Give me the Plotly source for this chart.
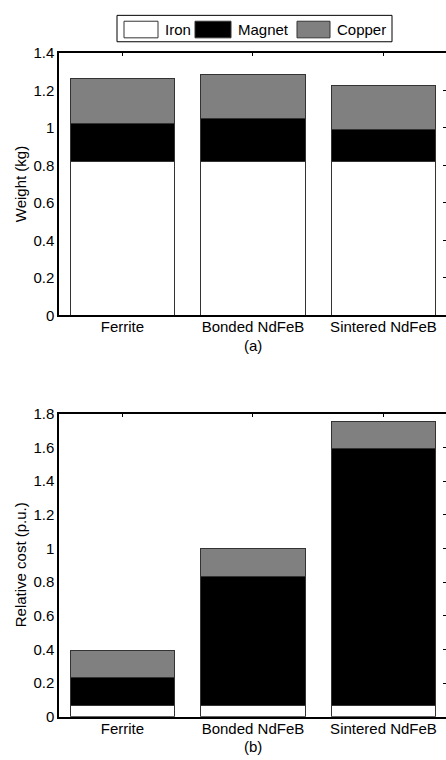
import plotly.graph_objects as go

categories = ["Ferrite", "Bonded NdFeB", "Sintered NdFeB"]
weight_iron = [0.82, 0.82, 0.82]
weight_magnet = [0.205, 0.233, 0.17]
weight_copper = [0.24, 0.234, 0.234]
cost_iron = [0.07, 0.07, 0.07]
cost_magnet = [0.162, 0.761, 1.525]
cost_copper = [0.164, 0.168, 0.161]
weight_ticks = [0, 0.2, 0.4, 0.6, 0.8, 1, 1.2, 1.4]
cost_ticks = [0, 0.2, 0.4, 0.6, 0.8, 1, 1.2, 1.4, 1.6, 1.8]
series_names = ["Iron", "Magnet", "Copper"]
series_colors = ["#ffffff", "#000000", "#808080"]

W, H = 446, 760
L = 59
FONT = "Liberation Sans, Arial, sans-serif"
FS = 15

fig = go.Figure()
xs = [0, 1, 2]
for vals_set, xa, ya in [((weight_iron, weight_magnet, weight_copper), "x", "y"),
                          ((cost_iron, cost_magnet, cost_copper), "x2", "y2")]:
    for name, vals, col in zip(series_names, vals_set, series_colors):
        fig.add_trace(go.Bar(x=xs, y=vals, name=name, marker_color=col,
                             marker_line=dict(color="#333333", width=1),
                             width=0.8, xaxis=xa, yaxis=ya, showlegend=False))

def py(p):
    return 1 - p / H

def px(p):
    return (p - L) / (W - L)

top_dom = [py(313.5), py(45)]
bot_dom = [py(724), py(414)]
xr = [-0.486, 2.479]

common_x = dict(range=xr, tickmode="array", tickvals=xs, ticktext=categories,
                showline=True, linecolor="black", linewidth=1.5, mirror=True,
                ticks="", showgrid=False, zeroline=False, ticklabelstandoff=-3,
                tickfont=dict(family=FONT, size=FS, color="black"))
common_y = dict(showline=True, linecolor="black", linewidth=1.5, mirror=False,
                ticks="", showgrid=False, zeroline=False, tickmode="array",
                tickfont=dict(family=FONT, size=FS, color="black"))

fig.update_layout(
    width=W, height=H, margin=dict(l=L, r=0, t=0, b=0),
    paper_bgcolor="white", plot_bgcolor="white",
    barmode="stack", bargap=0.2,
    font=dict(family=FONT, size=FS, color="black"),
    xaxis=dict(domain=[0, 1], anchor="y", **common_x),
    yaxis=dict(domain=top_dom, anchor="x", range=[0, 1.4], tickvals=weight_ticks,
               ticktext=[f"{v:g}" for v in weight_ticks], **common_y),
    xaxis2=dict(domain=[0, 1], anchor="y2", **common_x),
    yaxis2=dict(domain=bot_dom, anchor="x2", range=[0, 1.8], tickvals=cost_ticks,
                ticktext=[f"{v:g}" for v in cost_ticks], **common_y),
    xaxis3=dict(overlaying="x", side="top", anchor="y", range=xr, tickmode="array",
                tickvals=xs, showticklabels=False, ticks="inside", ticklen=3,
                tickcolor="black", showgrid=False, zeroline=False, showline=False),
    xaxis4=dict(overlaying="x2", side="top", anchor="y2", range=xr, tickmode="array",
                tickvals=xs, showticklabels=False, ticks="inside", ticklen=3,
                tickcolor="black", showgrid=False, zeroline=False, showline=False),
    yaxis3=dict(overlaying="y", side="right", anchor="x", range=[0, 1.4], tickmode="array",
                tickvals=weight_ticks, showticklabels=False, ticks="inside", ticklen=3,
                tickcolor="black", showgrid=False, zeroline=False, showline=False),
    yaxis4=dict(overlaying="y2", side="right", anchor="x2", range=[0, 1.8], tickmode="array",
                tickvals=cost_ticks, showticklabels=False, ticks="inside", ticklen=3,
                tickcolor="black", showgrid=False, zeroline=False, showline=False),
)

fig.add_trace(go.Scatter(x=[0], y=[0], xaxis="x3", yaxis="y3", mode="markers",
                         marker=dict(opacity=0), showlegend=False, hoverinfo="skip"))
fig.add_trace(go.Scatter(x=[0], y=[0], xaxis="x4", yaxis="y4", mode="markers",
                         marker=dict(opacity=0), showlegend=False, hoverinfo="skip"))

annotations = [
    dict(text="Weight (kg)", x=px(20), y=(top_dom[0] + top_dom[1]) / 2, textangle=-90),
    dict(text="Relative cost (p.u.)", x=px(20), y=(bot_dom[0] + bot_dom[1]) / 2, textangle=-90),
    dict(text="(a)", x=px(253), y=py(344)),
    dict(text="(b)", x=px(253), y=py(754)),
]
for a in annotations:
    a.update(xref="paper", yref="paper", showarrow=False, xanchor="center", yanchor="middle",
             font=dict(family=FONT, size=FS, color="black"))

shapes = [dict(type="rect", xref="paper", yref="paper", x0=px(117), x1=px(392),
               y0=py(33.5), y1=py(6.5), line=dict(color="black", width=1),
               fillcolor="white")]
legend_items = [(124, 158, 163), (195, 231, 236), (297, 330, 335)]
for (sx0, sx1, tx), name, col in zip(legend_items, series_names, series_colors):
    shapes.append(dict(type="rect", xref="paper", yref="paper", x0=px(sx0), x1=px(sx1),
                       y0=py(29.5), y1=py(12.5), line=dict(color="#333333", width=1),
                       fillcolor=col))
    annotations.append(dict(text=name, x=px(tx), y=py(21), xref="paper", yref="paper",
                            showarrow=False, xanchor="left", yanchor="middle",
                            font=dict(family=FONT, size=FS, color="black")))

fig.update_layout(annotations=annotations, shapes=shapes)
fig.write_html("out.html", config={"displayModeBar": False},
               post_script="document.body.style.margin='0';document.body.style.overflow='hidden';")
